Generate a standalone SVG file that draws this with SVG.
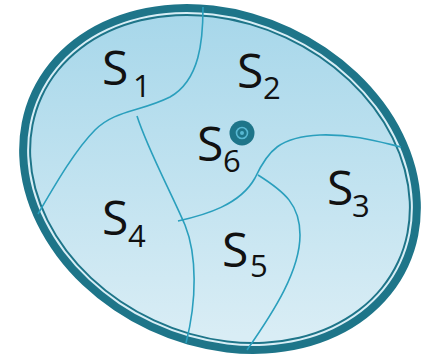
<svg xmlns="http://www.w3.org/2000/svg" width="427" height="359" viewBox="0 0 427 359">
<style>
.lbl{font-family:"Open Sans","Noto Sans",sans-serif;fill:#111;}
.big{font-size:48px;}
.sub{font-size:31px;}
.bd{fill:none;stroke:#2a9fbd;stroke-width:1.6;}
</style>
<defs>
<linearGradient id="g" x1="0" y1="0" x2="0.6" y2="1">
<stop offset="0" stop-color="#9ed3e8"/>
<stop offset="1" stop-color="#d9edf5"/>
</linearGradient>
</defs>
<g id="outline" transform="translate(220,179) rotate(25)">
<ellipse rx="207.5" ry="167" fill="#1e7589"/>
<ellipse rx="199.5" ry="159" fill="#d8eef6"/>
<ellipse rx="197.5" ry="157" fill="#1e7589"/>
<ellipse rx="195.5" ry="155" fill="url(#g)"/>
</g>
<g id="connectors">
<path class="bd" d="M203,7 C203,40 200,80 170,97 C140,112 115,110 95,130 C75,150 55,185 38,214"/>
<path class="bd" d="M137,116 C148,150 170,190 185,225 C197,255 197,300 186,343"/>
<path class="bd" d="M178,221 C205,215 240,205 255,178 C268,150 280,137 320,135 C355,134 380,142 401,147"/>
<path class="bd" d="M258,175 C285,192 300,205 300,235 C300,270 275,310 247,350"/>
</g>
<g id="S1"><text class="lbl big" x="102" y="85">S</text><text class="lbl sub" x="133" y="97">1</text></g>
<g id="S2"><text class="lbl big" x="237" y="88">S</text><text class="lbl sub" x="263" y="99">2</text></g>
<g id="S6"><text class="lbl big" x="197" y="161">S</text><text class="lbl sub" x="223" y="172">6</text>
<circle cx="242" cy="133" r="12.5" fill="#1e7589"/>
<circle cx="242" cy="133" r="5.5" fill="none" stroke="#58b8d2" stroke-width="1.6"/>
<circle cx="242" cy="133" r="2" fill="#58b8d2"/></g>
<g id="S3"><text class="lbl big" x="327" y="205">S</text><text class="lbl sub" x="352" y="217">3</text></g>
<g id="S4"><text class="lbl big" x="102" y="235">S</text><text class="lbl sub" x="128" y="247">4</text></g>
<g id="S5"><text class="lbl big" x="222" y="267">S</text><text class="lbl sub" x="250" y="277">5</text></g>
</svg>
